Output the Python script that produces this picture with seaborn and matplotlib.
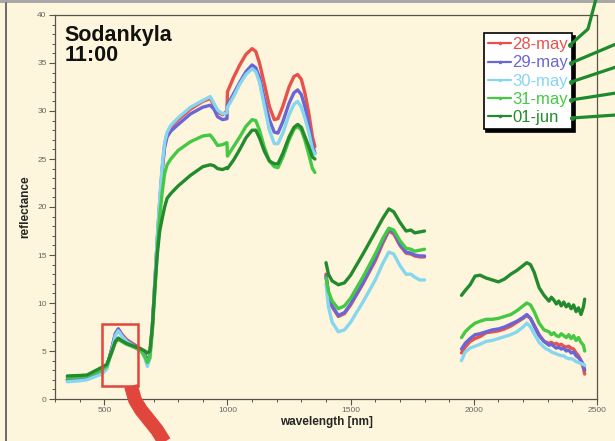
import numpy as np
import pandas as pd
import matplotlib
matplotlib.use("Agg")
import matplotlib.pyplot as plt
import seaborn as sns
from matplotlib.lines import Line2D
from matplotlib.patches import Rectangle
from matplotlib.ticker import MultipleLocator

# ---- spectra (reflectance, %) per acquisition date ----
dates = ["28-may", "29-may", "30-may", "31-may", "01-jun"]
colors = ["#E8524A", "#6A66D6", "#86D6F0", "#45C945", "#238B2E"]

# VNIR detector
wl_vnir = [350, 400, 430, 460, 490, 510, 530, 545, 557, 570, 590, 620, 650, 665, 675,
           685, 695, 705, 715, 725, 735, 745, 755, 770, 800, 850, 900, 930, 945, 960, 980, 998]
vnir_28may = [2.0, 2.1, 2.2, 2.5, 2.8, 3.3, 5.2, 6.8, 7.3, 6.8, 6.2, 5.7, 5.2, 4.6, 3.9,
              4.6, 7.5, 12.0, 16.5, 20.5, 24.0, 26.5, 27.6, 28.3, 29.1, 30.2, 31.0, 31.3, 30.6, 29.9, 29.6, 30.0]
vnir_29may = [2.0, 2.1, 2.2, 2.5, 2.8, 3.3, 5.2, 6.8, 7.3, 6.7, 6.1, 5.6, 5.1, 4.6, 3.9,
              4.6, 7.5, 12.0, 16.5, 20.3, 23.8, 26.2, 27.3, 27.9, 28.6, 29.7, 30.4, 30.6, 30.2, 29.4, 29.1, 29.2]
vnir_30may = [1.8, 1.9, 2.0, 2.3, 2.6, 3.1, 5.0, 6.6, 7.1, 6.6, 6.0, 5.5, 5.0, 4.2, 3.4,
              4.2, 7.3, 12.0, 16.8, 20.8, 24.3, 26.7, 27.8, 28.5, 29.3, 30.4, 31.1, 31.5, 30.8, 30.1, 29.7, 29.8]
vnir_31may = [2.2, 2.3, 2.4, 2.7, 3.0, 3.4, 4.8, 5.9, 6.2, 6.0, 5.7, 5.4, 5.0, 4.4, 3.8,
              4.3, 7.0, 11.0, 15.5, 19.0, 21.5, 23.5, 24.4, 25.0, 25.9, 26.8, 27.4, 27.5, 27.0, 26.4, 26.5, 26.7]
vnir_01jun = [2.4, 2.45, 2.5, 2.9, 3.3, 3.6, 4.9, 6.0, 6.35, 6.1, 5.8, 5.5, 5.2, 5.0, 4.8,
              5.0, 7.5, 11.5, 15.0, 17.5, 18.8, 20.0, 20.9, 21.4, 22.2, 23.3, 24.2, 24.4, 24.3, 24.0, 23.9, 24.1]

# SWIR detector, first window
wl_swir1 = [1000, 1025, 1050, 1075, 1100, 1115, 1130, 1150, 1170, 1190, 1205, 1225,
            1250, 1270, 1285, 1300, 1315, 1330, 1345, 1355]
swir1_28may = [32.0, 33.5, 34.8, 35.9, 36.5, 36.2, 35.0, 32.8, 30.5, 29.1, 29.2, 30.5,
               32.5, 33.6, 33.8, 33.3, 31.8, 29.8, 27.3, 26.3]
swir1_29may = [30.6, 31.8, 33.0, 34.1, 34.8, 34.5, 33.5, 31.2, 29.1, 27.8, 27.7, 28.9,
               30.8, 31.9, 32.2, 31.7, 30.4, 28.6, 26.5, 25.6]
swir1_30may = [30.4, 31.5, 32.8, 33.8, 34.4, 34.1, 33.0, 30.5, 28.0, 26.6, 26.6, 27.7,
               29.6, 30.7, 31.0, 30.4, 29.2, 27.8, 26.0, 25.5]
swir1_31may = [25.3, 26.3, 27.3, 28.4, 29.1, 29.0, 28.0, 26.2, 24.8, 24.2, 24.1, 25.2,
               27.0, 28.1, 28.4, 28.0, 26.9, 25.5, 24.0, 23.6]
swir1_01jun = [24.0, 24.9, 26.0, 27.2, 28.0, 28.0, 27.2, 25.8, 24.8, 24.5, 24.5, 25.6,
               27.3, 28.3, 28.6, 28.3, 27.3, 26.3, 25.2, 25.0]

# SWIR detector, second window
wl_swir2 = [1400, 1410, 1425, 1450, 1475, 1500, 1550, 1600, 1630, 1655, 1675, 1700,
            1725, 1745, 1760, 1780, 1800]
swir2_28may = [13.0, 11.0, 9.6, 8.6, 8.9, 9.8, 12.0, 14.4, 16.2, 17.5, 17.2, 16.0,
               15.2, 15.1, 14.9, 14.8, 14.8]
swir2_29may = [12.8, 11.0, 9.7, 8.7, 9.0, 9.9, 12.1, 14.6, 16.4, 17.6, 17.4, 16.1,
               15.3, 15.2, 15.0, 14.9, 14.9]
swir2_30may = [12.0, 9.6, 8.0, 7.0, 7.2, 8.0, 10.1, 12.4, 14.1, 15.3, 15.1, 13.9,
               13.0, 13.0, 12.7, 12.4, 12.4]
swir2_31may = [12.6, 11.2, 10.2, 9.4, 9.7, 10.5, 12.7, 15.1, 16.7, 17.8, 17.6, 16.5,
               15.7, 15.6, 15.4, 15.5, 15.6]
swir2_01jun = [14.2, 13.0, 12.3, 11.9, 12.1, 12.9, 15.1, 17.4, 18.8, 19.8, 19.5, 18.4,
               17.5, 17.6, 17.3, 17.4, 17.5]

# SWIR detector, third window
wl_swir3 = [1950, 1965, 1985, 2005, 2025, 2050, 2075, 2100, 2125, 2150, 2175, 2200, 2215,
            2230, 2245, 2265, 2285, 2295, 2305, 2315, 2325, 2335, 2345, 2355, 2365, 2375,
            2385, 2395, 2405, 2415, 2425, 2435, 2445, 2450]
swir3_28may = [4.8, 5.4, 6.0, 6.3, 6.5, 6.9, 7.0, 7.1, 7.3, 7.6, 8.0, 8.4, 8.7, 8.4, 7.7, 6.7, 6.0,
               5.9, 5.8, 5.9, 5.7, 5.8, 5.6, 5.7, 5.5, 5.4, 5.5, 5.3, 5.2, 4.8, 4.5, 4.0, 3.2, 2.6]
swir3_29may = [5.2, 5.8, 6.3, 6.7, 6.8, 7.0, 7.2, 7.3, 7.5, 7.8, 8.1, 8.5, 8.8, 8.4, 7.6, 6.6, 6.0,
               5.8, 5.6, 5.7, 5.5, 5.3, 5.4, 5.2, 5.3, 5.0, 5.1, 4.8, 4.9, 4.5, 4.3, 4.0, 3.6, 3.0]
swir3_30may = [4.0, 4.9, 5.3, 5.5, 5.7, 6.0, 6.1, 6.3, 6.5, 6.7, 7.0, 7.5, 7.9, 7.5, 6.8, 5.9, 5.4,
               5.2, 5.1, 4.9, 4.8, 4.7, 4.6, 4.5, 4.5, 4.3, 4.2, 4.2, 4.1, 3.9, 3.8, 3.7, 3.6, 3.5]
swir3_31may = [6.4, 7.0, 7.5, 7.9, 8.1, 8.3, 8.3, 8.4, 8.6, 8.8, 9.2, 9.7, 10.0, 9.8, 9.1, 7.9, 7.2,
               7.1, 7.0, 6.7, 6.9, 6.6, 6.5, 6.8, 6.6, 6.4, 6.7, 6.3, 6.6, 6.1, 6.4, 5.9, 5.6, 5.0]
swir3_01jun = [10.8, 11.3, 11.9, 12.8, 12.9, 12.6, 12.4, 12.2, 12.5, 13.0, 13.4, 13.9, 14.2, 14.0, 13.2, 11.6, 10.8,
               10.5, 10.2, 10.6, 10.3, 9.9, 10.2, 9.7, 10.1, 9.6, 9.9, 9.4, 9.8, 9.1, 9.5, 8.8, 9.6, 10.4]

# (unit, wavelengths, series) - VNIR and first SWIR window are drawn as one trace
segments = [
    ("a", wl_vnir, [vnir_28may, vnir_29may, vnir_30may, vnir_31may, vnir_01jun]),
    ("a", wl_swir1, [swir1_28may, swir1_29may, swir1_30may, swir1_31may, swir1_01jun]),
    ("b", wl_swir2, [swir2_28may, swir2_29may, swir2_30may, swir2_31may, swir2_01jun]),
    ("c", wl_swir3, [swir3_28may, swir3_29may, swir3_30may, swir3_31may, swir3_01jun]),
]

rows = []
for seg, wl, series in segments:
    for date, vals in zip(dates, series):
        for w, v in zip(wl, vals):
            rows.append({"wavelength": w, "reflectance": v, "date": date, "segment": seg})
df = pd.DataFrame(rows)

# ---- figure ----
bg = "#FDF6DC"
sns.set_style("ticks")
plt.rcParams["font.family"] = ["Liberation Sans", "DejaVu Sans"]

W, H = 615, 441
fig = plt.figure(figsize=(W / 100, H / 100), dpi=100, facecolor=bg)
ax = fig.add_axes([55 / W, 1 - 399 / H, 542 / W, 384 / H])
ax.set_facecolor(bg)

sns.lineplot(data=df, x="wavelength", y="reflectance", hue="date", hue_order=dates,
             units="segment", estimator=None, sort=False, palette=colors,
             linewidth=2.4, legend=False, ax=ax)

ax.set_xlim(300, 2500)
ax.set_ylim(0, 40)
ax.set_xticks([500, 1000, 1500, 2000, 2500])
ax.xaxis.set_minor_locator(MultipleLocator(100))
ax.yaxis.set_major_locator(MultipleLocator(5))
ax.yaxis.set_minor_locator(MultipleLocator(1))
spine_c = "#5a5448"
for s in ax.spines.values():
    s.set_visible(True)
    s.set_color(spine_c)
    s.set_linewidth(0.9)
ax.tick_params(which="major", direction="out", length=4, width=0.8, color=spine_c,
               labelsize=6, labelcolor="#666666", pad=2)
ax.tick_params(which="minor", direction="out", length=2, width=0.7, color=spine_c)
ax.set_xlabel("wavelength [nm]", fontsize=8.5, fontweight="bold", labelpad=1)
ax.set_ylabel("reflectance", fontsize=8.5, fontweight="bold", labelpad=4)

ax.text(0.018, 0.975, "Sodankyla\n11:00", transform=ax.transAxes, ha="left", va="top",
        fontsize=15.5, fontweight="bold", linespacing=0.95, color="#111111")

# zoomed region around the green peak
ax.add_patch(Rectangle((492, 1.35), 145, 6.5, fill=False, edgecolor="#E0463C", lw=1.8, zorder=5))

# legend
handles = [Line2D([], [], color=c, lw=1.6, marker=".", markersize=3) for c in colors]
leg = ax.legend(handles, dates, loc="upper right", bbox_to_anchor=(0.954, 0.953),
                borderaxespad=0, fontsize=12, labelspacing=0.19, handlelength=1.4,
                handletextpad=0.05, borderpad=0.25, frameon=True, fancybox=False,
                shadow={"color": "black", "alpha": 1.0})
leg.get_frame().set_edgecolor("black")
leg.get_frame().set_linewidth(1.2)
leg.get_frame().set_facecolor("white")
for t, c in zip(leg.get_texts(), colors):
    t.set_color(c)


def px(x, y):
    return x / W, 1 - y / H


# page frame: grey band on top and a dark rule on the left
fig.patches.append(Rectangle(px(0, 3), 1, 3 / H, transform=fig.transFigure,
                             facecolor="#A8A8A8", edgecolor="none", zorder=0))
fig.add_artist(Line2D(*zip(px(6, 3), px(6, H)), transform=fig.transFigure,
                      color="#555555", lw=1.2))

# red connector band leaving the rectangle
band = [(131, 386), (135, 400), (141, 410), (149, 420), (157, 430), (167, 446)]
bx, by = zip(*[px(x, y) for x, y in band])
fig.add_artist(Line2D(bx, by, transform=fig.transFigure, color="#E0463C",
                      lw=10, solid_capstyle="butt", zorder=6))

# green leader lines from each legend entry
leaders = [
    [(570, 45), (588, 29), (597, -5)],
    [(571, 63), (616, 44)],
    [(571, 82), (616, 67)],
    [(571, 100), (616, 93)],
    [(572, 118), (616, 115)],
]
for pts in leaders:
    lx, ly = zip(*[px(x, y) for x, y in pts])
    fig.add_artist(Line2D(lx, ly, transform=fig.transFigure, color="#1E8A2E",
                          lw=2.3, zorder=7))
    fig.add_artist(Line2D([lx[0]], [ly[0]], transform=fig.transFigure, color="#1E8A2E",
                          marker="o", markersize=2.5, zorder=7))

fig.savefig("out.png", dpi=100, facecolor=bg)
